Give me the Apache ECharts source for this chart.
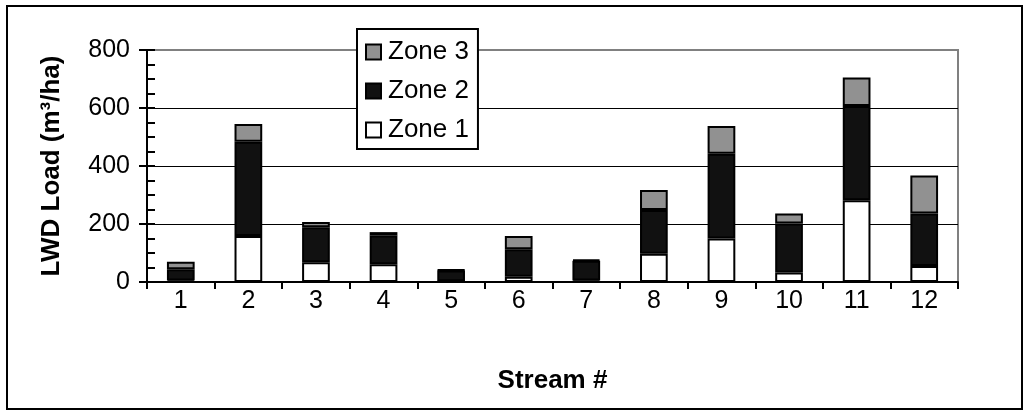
<!DOCTYPE html>
<html>
<head>
<meta charset="utf-8">
<script src="https://cdn.jsdelivr.net/npm/echarts@6/dist/echarts.min.js"></script>
<style>
html,body{margin:0;padding:0;background:#fff;}
#c{width:1029px;height:412px;}
</style>
</head>
<body>
<div id="c"></div>
<script>
const categories = ['1','2','3','4','5','6','7','8','9','10','11','12'];
const zone1 = [5, 159, 68, 61, 3, 18, 5, 97, 150, 33, 282, 55];
const zone2 = [39, 325, 121, 99, 37, 95, 68, 151, 292, 169, 325, 181];
const zone3 = [26, 61, 18, 12, 2, 46, 4, 69, 96, 34, 98, 131];
const yTicks = [0, 200, 400, 600, 800];

const FONT = '"Liberation Sans", Arial, sans-serif';
const chart = echarts.init(document.getElementById('c'), null, {renderer: 'canvas'});

const barStyle = (color) => ({color: color, borderColor: '#000', borderWidth: 2});

chart.setOption({
  animation: false,
  backgroundColor: '#fff',
  graphic: [{
    type: 'rect',
    shape: {x: 7, y: 6, width: 1015, height: 403},
    style: {fill: 'none', stroke: '#000', lineWidth: 2},
    z: -1
  }],
  grid: {
    left: 147, right: 71, top: 50, bottom: 130,
    show: true, borderColor: '#808080', borderWidth: 2, backgroundColor: 'transparent'
  },
  legend: {
    orient: 'vertical',
    left: 357, top: 29,
    data: ['Zone 3', 'Zone 2', 'Zone 1'],
    icon: 'rect',
    itemWidth: 15, itemHeight: 15, itemGap: 13,
    padding: [10, 9, 6, 8],
    backgroundColor: '#fff',
    borderColor: '#000', borderWidth: 2,
    textStyle: {fontFamily: FONT, fontSize: 26, color: '#000', padding: [0, 0, 0, 2]},
    z: 10
  },
  xAxis: {
    type: 'category',
    data: categories,
    boundaryGap: true,
    axisLine: {lineStyle: {color: '#000', width: 2}},
    axisTick: {show: true, inside: false, length: 7, lineStyle: {color: '#000', width: 2}},
    axisLabel: {fontFamily: FONT, fontSize: 25, color: '#000', margin: 7},
    name: 'Stream #',
    nameLocation: 'middle',
    nameGap: 86,
    nameTextStyle: {fontFamily: FONT, fontSize: 26, fontWeight: 'bold', color: '#000'}
  },
  yAxis: [{
    type: 'value',
    min: yTicks[0], max: yTicks[yTicks.length - 1], interval: 200,
    axisLine: {show: true, lineStyle: {color: '#000', width: 2}},
    axisTick: {show: true, inside: true, length: 8, lineStyle: {color: '#000', width: 2}},
    minorTick: {show: true, splitNumber: 4, length: 8, lineStyle: {color: '#000', width: 2}},
    splitLine: {show: true, showMinLine: false, showMaxLine: false, lineStyle: {color: '#000', width: 1.2}},
    axisLabel: {fontFamily: FONT, fontSize: 25, color: '#000', margin: 17},
    name: 'LWD Load (m³/ha)',
    nameLocation: 'middle',
    nameRotate: 90,
    nameGap: 82,
    nameTextStyle: {fontFamily: FONT, fontSize: 26, fontWeight: 'bold', color: '#000'}
  }, {
    type: 'value',
    position: 'left',
    min: yTicks[0], max: yTicks[yTicks.length - 1], interval: 200,
    axisLine: {show: false},
    axisTick: {show: true, inside: false, length: 8, lineStyle: {color: '#000', width: 2}},
    splitLine: {show: false},
    axisLabel: {show: false}
  }],
  series: [
    {name: 'Zone 1', type: 'bar', stack: 'a', data: zone1, barWidth: '41%', itemStyle: barStyle('#ffffff')},
    {name: 'Zone 2', type: 'bar', stack: 'a', data: zone2, barWidth: '41%', itemStyle: barStyle('#111111')},
    {name: 'Zone 3', type: 'bar', stack: 'a', data: zone3, barWidth: '41%', itemStyle: barStyle('#919191')}
  ]
});
</script>
</body>
</html>
